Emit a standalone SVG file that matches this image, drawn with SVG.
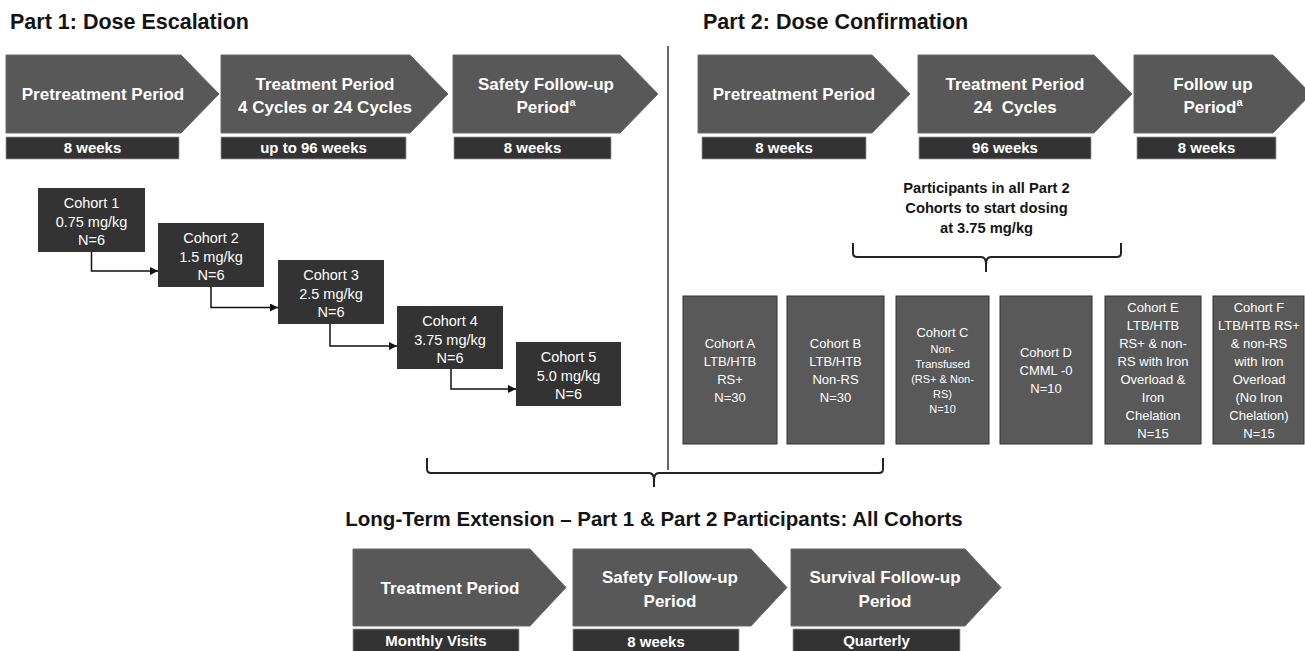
<svg xmlns="http://www.w3.org/2000/svg" width="1305" height="651" viewBox="0 0 1305 651">
<defs>
<marker id="arr" markerUnits="userSpaceOnUse" markerWidth="9" markerHeight="8" refX="8" refY="4" orient="auto">
<path d="M0,0 L8,4 L0,8 z" fill="#111"/>
</marker>
<style>
.hd{font-family:"Liberation Sans",Arial,sans-serif;font-weight:bold;fill:#141414;}
.chev{fill:#585858;stroke:#6a6a6a;stroke-width:1;}
.lbl{fill:#333333;stroke:#9a9a9a;stroke-width:0.8;}
.ct{font-family:"Liberation Sans",Arial,sans-serif;font-weight:bold;font-size:17px;fill:#ffffff;text-anchor:middle;}
.lt{font-family:"Liberation Sans",Arial,sans-serif;font-weight:bold;font-size:15px;fill:#ffffff;text-anchor:middle;}
.c1{fill:#333333;}
.c1t{font-family:"Liberation Sans",Arial,sans-serif;font-size:14.5px;fill:#ffffff;text-anchor:middle;}
.c2{fill:#595959;stroke:#333333;stroke-width:1;}
.c2t{font-family:"Liberation Sans",Arial,sans-serif;font-size:13px;fill:#ffffff;text-anchor:middle;}
.c2s{font-family:"Liberation Sans",Arial,sans-serif;font-size:11px;fill:#ffffff;text-anchor:middle;}
.pt{font-family:"Liberation Sans",Arial,sans-serif;font-weight:bold;font-size:14.7px;fill:#141414;text-anchor:middle;}
.con{fill:none;stroke:#111;stroke-width:1.5;}
.brace{fill:none;stroke:#222;stroke-width:2;}
</style>
</defs>
<rect width="1305" height="651" fill="#ffffff"/>

<text class="hd" x="10" y="29" font-size="21.5">Part 1: Dose Escalation</text>
<text class="hd" x="703" y="29" font-size="21.5">Part 2: Dose Confirmation</text>
<text class="hd" x="654" y="526" font-size="20.5" text-anchor="middle">Long-Term Extension – Part 1 &amp; Part 2 Participants: All Cohorts</text>

<line x1="668" y1="46" x2="668" y2="470" stroke="#333" stroke-width="1.5"/>

<!-- Part 1 phases -->
<g id="p1-pretreatment">
<polygon class="chev" points="6,55 181,55 219,94 181,133 6,133"/>
<text class="ct" x="103" y="100">Pretreatment Period</text>
<rect class="lbl" x="6" y="137" width="173" height="22"/>
<text class="lt" x="92.5" y="153">8 weeks</text>
</g>
<g id="p1-treatment">
<polygon class="chev" points="221,55 410,55 448,94 410,133 221,133"/>
<text class="ct" x="325" y="90">Treatment Period</text>
<text class="ct" x="325" y="113">4 Cycles or 24 Cycles</text>
<rect class="lbl" x="221" y="137" width="185" height="22"/>
<text class="lt" x="313.5" y="153">up to 96 weeks</text>
</g>
<g id="p1-safety">
<polygon class="chev" points="453,55 620,55 658,94 620,133 453,133"/>
<text class="ct" x="546" y="90">Safety Follow-up</text>
<text class="ct" x="546" y="113">Period<tspan font-size="11" dy="-7">a</tspan></text>
<rect class="lbl" x="454" y="137" width="157" height="22"/>
<text class="lt" x="532.5" y="153">8 weeks</text>
</g>

<!-- Part 2 phases -->
<g id="p2-pretreatment">
<polygon class="chev" points="698,55 872,55 910,94 872,133 698,133"/>
<text class="ct" x="794" y="100">Pretreatment Period</text>
<rect class="lbl" x="702" y="137" width="164" height="22"/>
<text class="lt" x="784" y="153">8 weeks</text>
</g>
<g id="p2-treatment">
<polygon class="chev" points="918,55 1094,55 1132,94 1094,133 918,133"/>
<text class="ct" x="1015" y="90">Treatment Period</text>
<text class="ct" x="1015" y="113" xml:space="preserve">24  Cycles</text>
<rect class="lbl" x="919" y="137" width="172" height="22"/>
<text class="lt" x="1005" y="153">96 weeks</text>
</g>
<g id="p2-followup">
<polygon class="chev" points="1134,55 1273,55 1311,94 1273,133 1134,133"/>
<text class="ct" x="1213" y="90">Follow up</text>
<text class="ct" x="1213" y="113">Period<tspan font-size="11" dy="-7">a</tspan></text>
<rect class="lbl" x="1137" y="137" width="139" height="22"/>
<text class="lt" x="1206.5" y="153">8 weeks</text>
</g>

<!-- Part 1 cohorts -->
<g id="cohort1">
<rect class="c1" x="38" y="188" width="107" height="64"/>
<text class="c1t" x="91.5" y="208">Cohort 1</text>
<text class="c1t" x="91.5" y="226.5">0.75 mg/kg</text>
<text class="c1t" x="91.5" y="245">N=6</text>
</g>
<g id="cohort2">
<rect class="c1" x="158" y="223" width="106" height="64"/>
<text class="c1t" x="211" y="243">Cohort 2</text>
<text class="c1t" x="211" y="261.5">1.5 mg/kg</text>
<text class="c1t" x="211" y="280">N=6</text>
</g>
<g id="cohort3">
<rect class="c1" x="278" y="260" width="106" height="64"/>
<text class="c1t" x="331" y="280">Cohort 3</text>
<text class="c1t" x="331" y="298.5">2.5 mg/kg</text>
<text class="c1t" x="331" y="317">N=6</text>
</g>
<g id="cohort4">
<rect class="c1" x="397" y="306" width="106" height="63"/>
<text class="c1t" x="450" y="326">Cohort 4</text>
<text class="c1t" x="450" y="344.5">3.75 mg/kg</text>
<text class="c1t" x="450" y="363">N=6</text>
</g>
<g id="cohort5">
<rect class="c1" x="516" y="342" width="105" height="64"/>
<text class="c1t" x="568.5" y="362">Cohort 5</text>
<text class="c1t" x="568.5" y="380.5">5.0 mg/kg</text>
<text class="c1t" x="568.5" y="399">N=6</text>
</g>

<g id="connectors">
<path class="con" d="M91.5,252 V271 H158" marker-end="url(#arr)"/>
<path class="con" d="M211,287 V307.5 H278" marker-end="url(#arr)"/>
<path class="con" d="M330,324 V346 H397" marker-end="url(#arr)"/>
<path class="con" d="M451,369 V389 H516" marker-end="url(#arr)"/>
<path class="brace" d="M853,243 V253 Q853,257 857,257 H981 Q986,257 986,264 V272 M986,264 Q986,257 991,257 H1117 Q1121,257 1121,253 V243"/>
<path class="brace" d="M427,458 V469 Q427,473 431,473 H649 Q654,473 654,480 V487 M654,480 Q654,473 659,473 H879 Q883,473 883,469 V458"/>
</g>

<g id="part2-note">
<text class="pt" x="986.5" y="193">Participants in all Part 2</text>
<text class="pt" x="986.5" y="213">Cohorts to start dosing</text>
<text class="pt" x="986.5" y="233">at 3.75 mg/kg</text>
</g>

<!-- Part 2 cohorts -->
<g id="cohortA">
<rect class="c2" x="683" y="296" width="94" height="148"/>
<text class="c2t" x="730" y="348">Cohort A</text>
<text class="c2t" x="730" y="366">LTB/HTB</text>
<text class="c2t" x="730" y="384">RS+</text>
<text class="c2t" x="730" y="402">N=30</text>
</g>
<g id="cohortB">
<rect class="c2" x="787" y="296" width="97" height="148"/>
<text class="c2t" x="835.5" y="348">Cohort B</text>
<text class="c2t" x="835.5" y="366">LTB/HTB</text>
<text class="c2t" x="835.5" y="384">Non-RS</text>
<text class="c2t" x="835.5" y="402">N=30</text>
</g>
<g id="cohortC">
<rect class="c2" x="896" y="296" width="93" height="148"/>
<text class="c2t" x="942.5" y="336.5">Cohort C</text>
<text class="c2s" x="942.5" y="352.5">Non-</text>
<text class="c2s" x="942.5" y="367.5">Transfused</text>
<text class="c2s" x="942.5" y="382.5">(RS+ &amp; Non-</text>
<text class="c2s" x="942.5" y="397.5">RS)</text>
<text class="c2s" x="942.5" y="412.5">N=10</text>
</g>
<g id="cohortD">
<rect class="c2" x="1000" y="296" width="92" height="148"/>
<text class="c2t" x="1046" y="356.5">Cohort D</text>
<text class="c2t" x="1046" y="375">CMML -0</text>
<text class="c2t" x="1046" y="393">N=10</text>
</g>
<g id="cohortE">
<rect class="c2" x="1105" y="296" width="96" height="148"/>
<text class="c2t" x="1153" y="311.5">Cohort E</text>
<text class="c2t" x="1153" y="329.5">LTB/HTB</text>
<text class="c2t" x="1153" y="347.5">RS+ &amp; non-</text>
<text class="c2t" x="1153" y="365.5">RS with Iron</text>
<text class="c2t" x="1153" y="383.5">Overload &amp;</text>
<text class="c2t" x="1153" y="401.5">Iron</text>
<text class="c2t" x="1153" y="419.5">Chelation</text>
<text class="c2t" x="1153" y="437.5">N=15</text>
</g>
<g id="cohortF">
<rect class="c2" x="1213" y="296" width="91" height="148"/>
<text class="c2t" x="1259" y="311.5">Cohort F</text>
<text class="c2t" x="1259" y="329.5">LTB/HTB RS+</text>
<text class="c2t" x="1259" y="347.5">&amp; non-RS</text>
<text class="c2t" x="1259" y="365.5">with Iron</text>
<text class="c2t" x="1259" y="383.5">Overload</text>
<text class="c2t" x="1259" y="401.5">(No Iron</text>
<text class="c2t" x="1259" y="419.5">Chelation)</text>
<text class="c2t" x="1259" y="437.5">N=15</text>
</g>

<!-- Long-term extension -->
<g id="lte-treatment">
<polygon class="chev" points="353,549 530,549 566,587.5 530,626 353,626"/>
<text class="ct" x="450" y="594">Treatment Period</text>
<rect class="lbl" x="353" y="629" width="166" height="25"/>
<text class="lt" x="436" y="646">Monthly Visits</text>
</g>
<g id="lte-safety">
<polygon class="chev" points="573,549 751,549 787,587.5 751,626 573,626"/>
<text class="ct" x="670" y="583">Safety Follow-up</text>
<text class="ct" x="670" y="607">Period</text>
<rect class="lbl" x="573" y="629" width="166" height="25"/>
<text class="lt" x="656" y="647">8 weeks</text>
</g>
<g id="lte-survival">
<polygon class="chev" points="791,549 965,549 1001,587.5 965,626 791,626"/>
<text class="ct" x="885" y="583">Survival Follow-up</text>
<text class="ct" x="885" y="607">Period</text>
<rect class="lbl" x="793" y="629" width="167" height="25"/>
<text class="lt" x="876.5" y="646">Quarterly</text>
</g>
</svg>
